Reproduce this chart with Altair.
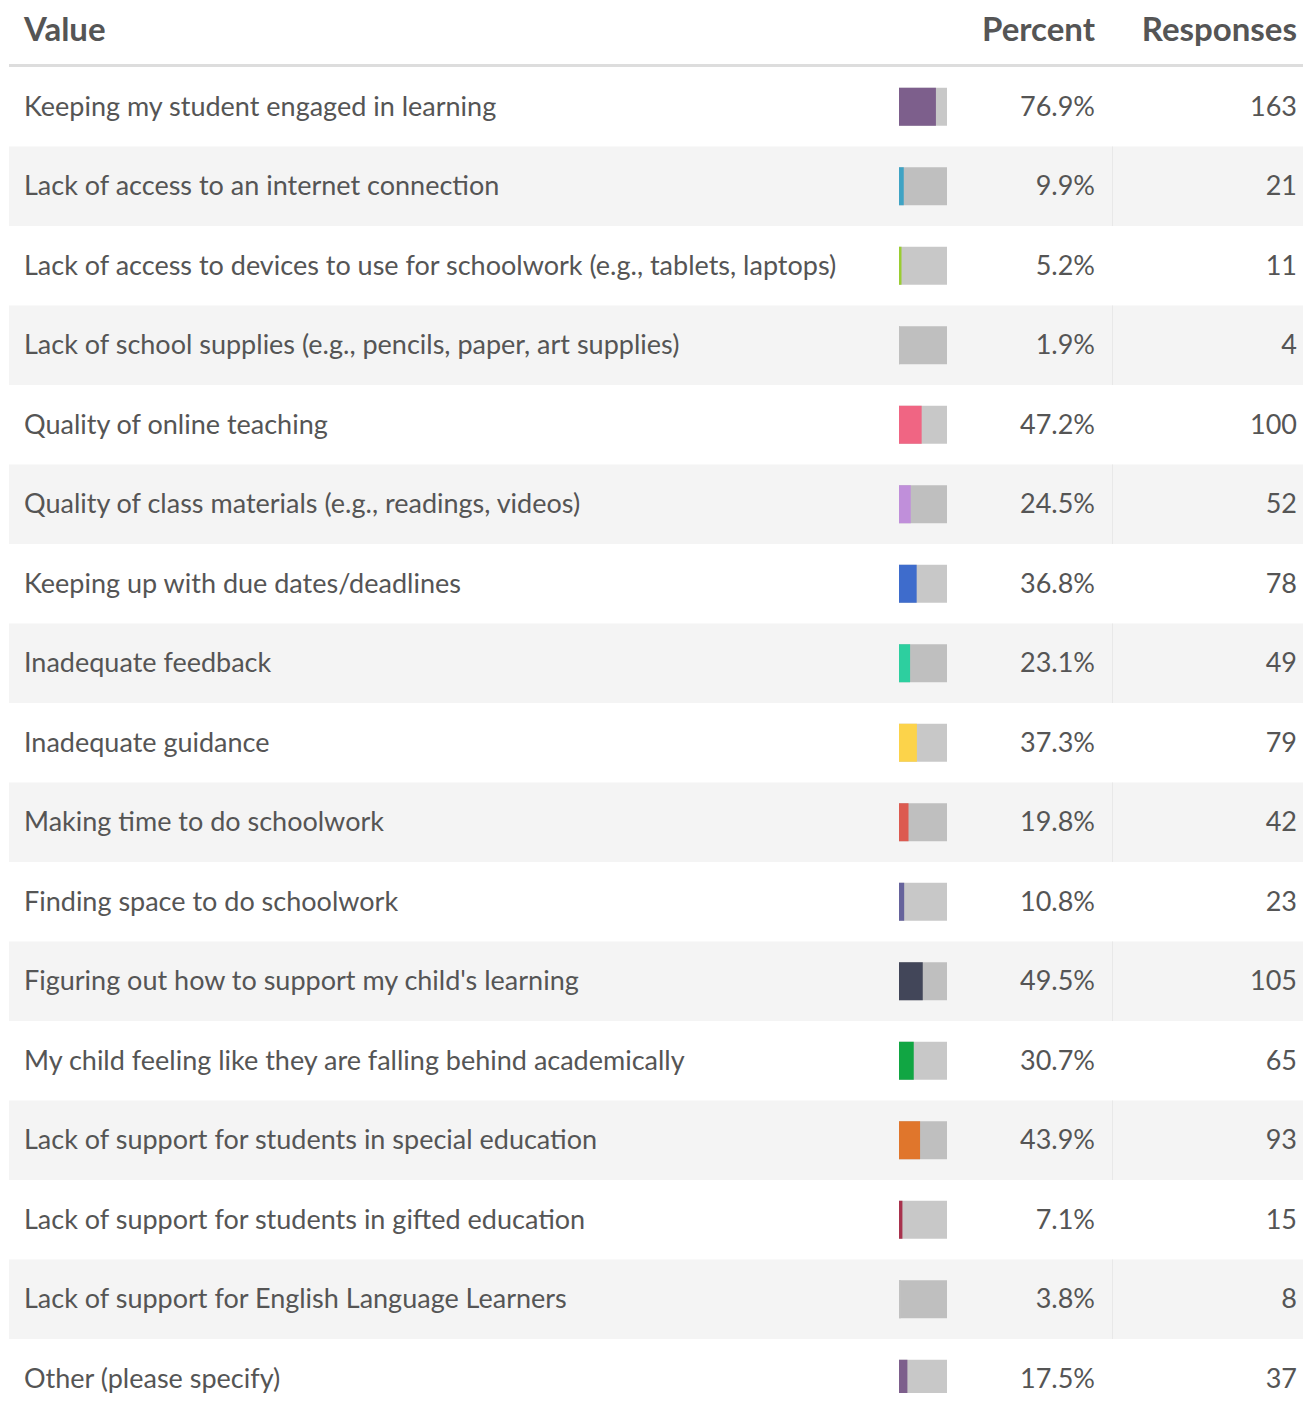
import altair as alt
import pandas as pd

labels = [
    "Keeping my student engaged in learning",
    "Lack of access to an internet connection",
    "Lack of access to devices to use for schoolwork (e.g., tablets, laptops)",
    "Lack of school supplies (e.g., pencils, paper, art supplies)",
    "Quality of online teaching",
    "Quality of class materials (e.g., readings, videos)",
    "Keeping up with due dates/deadlines",
    "Inadequate feedback",
    "Inadequate guidance",
    "Making time to do schoolwork",
    "Finding space to do schoolwork",
    "Figuring out how to support my child's learning",
    "My child feeling like they are falling behind academically",
    "Lack of support for students in special education",
    "Lack of support for students in gifted education",
    "Lack of support for English Language Learners",
    "Other (please specify)",
]
percents = [76.9, 9.9, 5.2, 1.9, 47.2, 24.5, 36.8, 23.1, 37.3, 19.8, 10.8, 49.5, 30.7, 43.9, 7.1, 3.8, 17.5]
responses = [163, 21, 11, 4, 100, 52, 78, 49, 79, 42, 23, 105, 65, 93, 15, 8, 37]
colors = ["#7d5f8c", "#3fa3c4", "#9acd32", "#c1c1c1", "#f06583", "#c08fda", "#3e6ccc",
          "#2dcf9f", "#fcd34a", "#dc5a50", "#66639c", "#424659", "#11a643", "#e0762c",
          "#a8324d", "#c1c1c1", "#7d5f8c"]
headers = ["Value", "Percent", "Responses"]

df = pd.DataFrame({
    "label": labels,
    "pct": percents,
    "resp": responses,
    "full": [100] * len(labels),
    "pct_text": [f"{p:.1f}%" for p in percents],
    "stripe": [i % 2 for i in range(len(labels))],
})

W, H = 1295, 1385
FONT = "Lato"
TXT = "#555555"
FS = 27
ROW = 79.5

Y = alt.Y("label:N", sort=labels,
          scale=alt.Scale(domain=labels, range=[59, 59 + ROW * len(labels)], paddingInner=0, paddingOuter=0),
          axis=None)
xscale = alt.Scale(domain=[0, 100], range=[891, 939])

base = alt.Chart(df)

bg = base.transform_filter("datum.stripe == 1").mark_rect(color="#f4f4f4").encode(
    x=alt.value(1), x2=alt.value(W), y=Y)
sep = base.transform_filter("datum.stripe == 1").mark_rect(color="#e8e8e8").encode(
    x=alt.value(1104), x2=alt.value(1105), y=Y)
graybar = base.mark_bar(size=38, color="black", opacity=0.216).encode(
    x=alt.X("full:Q", scale=xscale, axis=None), y=Y)
colbar = base.mark_bar(size=38).encode(
    x=alt.X("pct:Q", scale=xscale, axis=None), y=Y,
    color=alt.Color("label:N", scale=alt.Scale(domain=labels, range=colors), legend=None))
lab = base.mark_text(align="left", baseline="middle", dy=1, font=FONT, fontSize=FS, color=TXT).encode(
    x=alt.value(16), y=Y, text="label:N")
pct = base.mark_text(align="right", baseline="middle", dy=1, font=FONT, fontSize=FS, color=TXT).encode(
    x=alt.value(1087), y=Y, text="pct_text:N")
resp = base.mark_text(align="right", baseline="middle", dy=1, font=FONT, fontSize=FS, color=TXT).encode(
    x=alt.value(1289), y=Y, text="resp:Q")

def header(name, xpos, align):
    return alt.Chart(pd.DataFrame({"h": [name]})).mark_text(
        align=align, baseline="alphabetic", font=FONT, fontSize=33, fontWeight="bold", color=TXT
    ).encode(x=alt.value(xpos), y=alt.value(33), text="h:N")

h1 = header(headers[0], 16, "left")
h2 = header(headers[1], 1087, "right")
h3 = header(headers[2], 1289, "right")

hline = alt.Chart(pd.DataFrame({"k": [0]})).mark_rect(color="#dddddd").encode(
    x=alt.value(1), x2=alt.value(W), y=alt.value(56), y2=alt.value(59))

chart = alt.layer(bg, sep, graybar, colbar, lab, pct, resp, h1, h2, h3, hline).properties(
    width=W, height=H, padding=0, autosize=alt.AutoSizeParams(type="none"), background="white"
).configure_view(stroke=None)

chart.save("out.html", embed_options={"renderer": "svg", "actions": False})
